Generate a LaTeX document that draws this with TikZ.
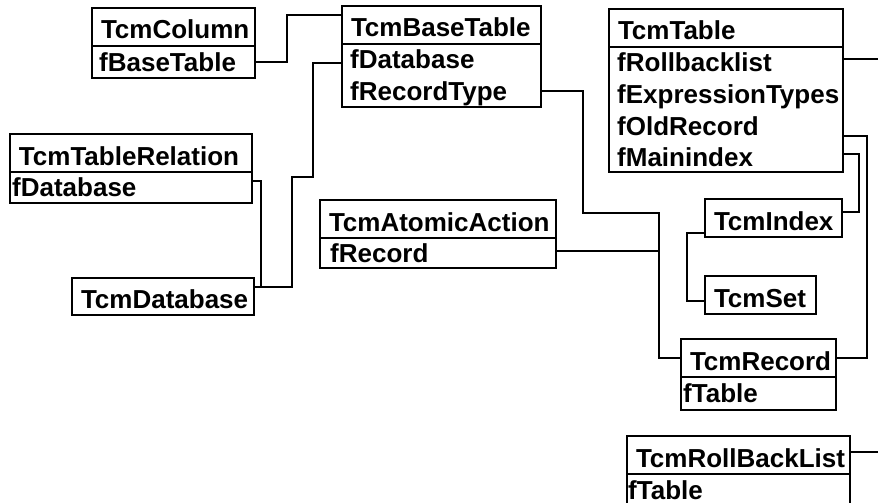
\documentclass[tikz,border=0pt]{standalone}
\usepackage{fontspec}
\setmainfont{Liberation Sans}

\begin{document}
\begin{tikzpicture}[x=1pt,y=-1pt,
  hdr/.style={draw,line width=1.8pt,outer sep=0pt,anchor=north west,
    inner xsep=9pt,inner ysep=0pt,minimum height=38pt,
    text height=24pt,text depth=0pt,align=left,
    font=\bfseries\fontsize{26}{30}\selectfont},
  body/.style={draw,line width=1.8pt,outer sep=0pt,anchor=north west,inner sep=0pt},
  fld/.style={anchor=base west,inner sep=0pt,font=\bfseries\fontsize{26}{30}\selectfont},
  wire/.style={line width=1.8pt}]
\useasboundingbox (0,0) rectangle (878,503);
\fill[white] (0,0) rectangle (878,503);
\clip (0,0) rectangle (878,503);
\coordinate (edge) at (882,0);

% classes
\node[hdr,text width=145pt] (col) at (92,8) {TcmColumn};
\node[body,minimum width=163pt,minimum height=32pt] (colB) at (col.south west) {};
\node[fld] (colFBase) at (99,72) {fBaseTable};

\node[hdr,text width=181pt] (bt) at (342,6) {TcmBaseTable};
\node[body,minimum width=199pt,minimum height=63pt] (btB) at (bt.south west) {};
\node[fld] (btFDb) at (350,69) {fDatabase};
\node[fld] (btFRec) at (350,100) {fRecordType};

\node[hdr,text width=216pt] (tbl) at (609,9) {TcmTable};
\node[body,minimum width=234pt,minimum height=125pt] (tblB) at (tbl.south west) {};
\node[fld] (tblFRb) at (617,72) {fRollbacklist};
\node[fld] (tblFExpr) at (617,103) {fExpressionTypes};
\node[fld] (tblFOld) at (617,135) {fOldRecord};
\node[fld] (tblFMain) at (617,166) {fMainindex};

\node[hdr,text width=224pt] (rel) at (10,134) {TcmTableRelation};
\node[body,minimum width=242pt,minimum height=31pt] (relB) at (rel.south west) {};
\node[fld] (relFDb) at (12,196) {fDatabase};

\node[hdr,text width=164pt,minimum height=37pt] (db) at (72,278) {TcmDatabase};

\node[hdr,text width=218pt] (act) at (320,200) {TcmAtomicAction};
\node[body,minimum width=236pt,minimum height=30pt] (actB) at (act.south west) {};
\node[fld] (actFRec) at (330,262) {fRecord};

\node[hdr,text width=119pt] (idx) at (705,199) {TcmIndex};
\node[hdr,text width=93pt] (set) at (705,276) {TcmSet};

\node[hdr,text width=137pt] (rec) at (681,339) {TcmRecord};
\node[body,minimum width=155pt,minimum height=33pt] (recB) at (rec.south west) {};
\node[fld] (recFTbl) at (683,402) {fTable};

\node[hdr,text width=205pt] (rbl) at (627,436) {TcmRollBackList};
\node[body,minimum width=223pt,minimum height=32pt] (rblB) at (rbl.south west) {};
\node[fld] (rblFTbl) at (628,499) {fTable};

% links
\draw[wire] (colB.east) -- ++(32,0) |- ([yshift=-9pt]bt.north west);
\draw[wire] ([yshift=-19pt]btB.north west) -- ++(-29,0) -- ++(0,114) -- ++(-21,0) |- ([yshift=-9pt]db.north east);
\draw[wire] ([yshift=-9pt]relB.north east) -- ++(9,0) |- ([yshift=-9pt]db.north east);
\draw[wire] ([yshift=-47pt]btB.north east) -- ++(42,0) -- ++(0,122) -- ++(76,0) coordinate (recJoin) |- (rec.west);
\draw[wire] ([yshift=-13pt]actB.north east) -| (recJoin);
\draw[wire] ([yshift=-89pt]tblB.north east) -- ++(24,0) |- (rec.east);
\draw[wire] ([yshift=-107pt]tblB.north east) -- ++(16,0) |- ([yshift=-13pt]idx.north east);
\draw[wire] ([yshift=4pt]idx.south west) -- ++(-18,0) |- ([yshift=13pt]set.south west);
\draw[wire] ([yshift=-12pt]tblB.north east) coordinate (rbOut) -- (rbOut -| edge);
\draw[wire] ([yshift=-16pt]rbl.north east) coordinate (rblOut) -- (rblOut -| edge);
\end{tikzpicture}
\end{document}
